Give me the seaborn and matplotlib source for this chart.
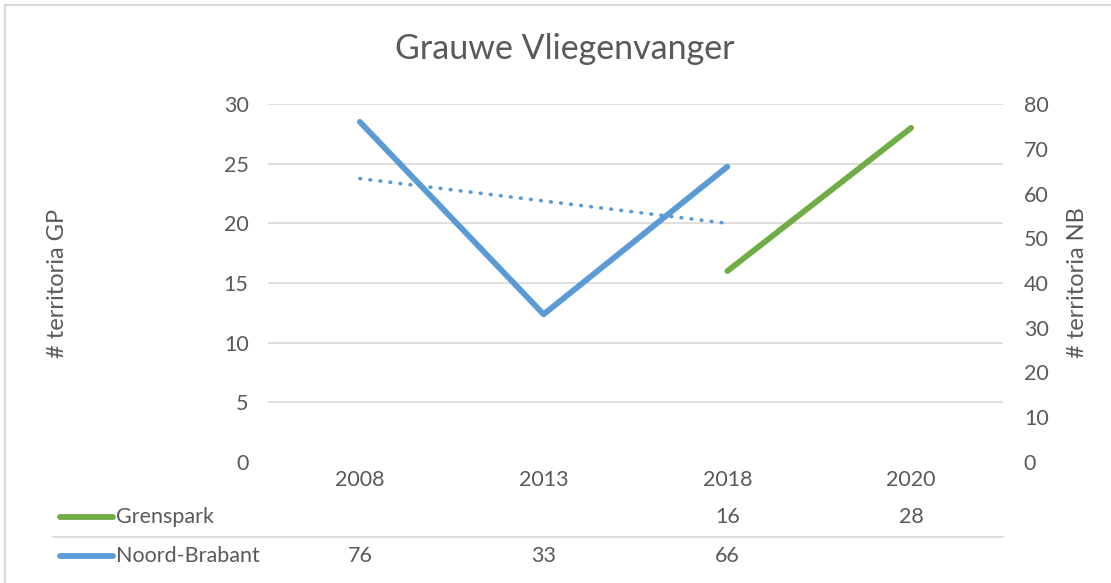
import numpy as np
import pandas as pd
import seaborn as sns
import matplotlib.pyplot as plt
from matplotlib.patches import Rectangle
from matplotlib.lines import Line2D
import matplotlib.transforms as mtransforms

# data
years = ["2008", "2013", "2018", "2020"]
grenspark = [np.nan, np.nan, 16, 28]      # left axis (GP)
noord_brabant = [76, 33, 66, np.nan]      # right axis (NB)

grey = "#595959"
blue = "#5B9BD5"
green = "#70AD47"
fs = 15.5

sns.set_theme(style="white")
plt.rcParams['font.family'] = ['Lato', 'DejaVu Sans']

df = pd.DataFrame({"x": range(len(years)), "year": years,
                   "Grenspark": grenspark, "Noord-Brabant": noord_brabant})

fig = plt.figure(figsize=(11.11, 5.83), dpi=100)
ax = fig.add_axes([268/1111, 1 - 462/583, 735/1111, 358/583])
ax2 = ax.twinx()

# green on left axis
sns.lineplot(data=df, x="x", y="Grenspark", ax=ax, color=green, linewidth=4.2)
# blue on right axis
sns.lineplot(data=df, x="x", y="Noord-Brabant", ax=ax2, color=blue, linewidth=4.2)

# linear trendline for Noord-Brabant
nb = df.dropna(subset=["Noord-Brabant"])
slope, intercept = np.polyfit(nb["x"], nb["Noord-Brabant"], 1)
trend_x = np.array([nb["x"].min(), nb["x"].max()])
ax2.plot(trend_x, slope * trend_x + intercept, color=blue, linewidth=2.6,
         linestyle=(0, (0.2, 2.6)), dash_capstyle="round")

ax.set_xlim(-0.5, len(years) - 0.5)
ax.set_ylim(0, 30)
ax2.set_ylim(0, 80)
ax.set_yticks(range(0, 31, 5))
ax2.set_yticks(range(0, 81, 10))
ax.set_xticks([])
for a in (ax, ax2):
    for s in a.spines.values():
        s.set_visible(False)
    a.tick_params(axis="y", length=0, labelsize=fs, labelcolor=grey)
    a.set_xlabel("")
ax.tick_params(axis="y", pad=14)
ax2.tick_params(axis="y", pad=15)
ax.grid(False)
ax2.grid(False)
for v in range(5, 31, 5):
    ax.axhline(v, color="#D9D9D9", linewidth=1.2, zorder=0)

ax.set_ylabel("# territoria GP", fontsize=17, color=grey)
ax2.set_ylabel("# territoria NB", fontsize=17, color=grey)
ax.yaxis.set_label_coords((68 - 268) / 735, 0.5)
ax2.yaxis.set_label_coords((1067 - 268) / 735, 0.5)

fig.text(565/1111, 1 - 49/583, "Grauwe Vliegenvanger", fontsize=24.5,
         color=grey, ha="center", va="center")

# data table under the chart
trans = mtransforms.blended_transform_factory(ax.transData, ax.transAxes)
row_year = (462 - 480) / 358
row_gp = (462 - 517) / 358
row_nb = (462 - 556) / 358
for i, yr in enumerate(years):
    ax.text(i, row_year, yr, transform=trans, ha="center", va="center",
            fontsize=fs, color=grey)
    if not np.isnan(grenspark[i]):
        ax.text(i, row_gp, f"{grenspark[i]:g}", transform=trans, ha="center",
                va="center", fontsize=fs, color=grey)
    if not np.isnan(noord_brabant[i]):
        ax.text(i, row_nb, f"{noord_brabant[i]:g}", transform=trans, ha="center",
                va="center", fontsize=fs, color=grey)

fig.add_artist(Line2D([53/1111, 1003/1111], [1 - 537/583, 1 - 537/583],
                      color="#D9D9D9", linewidth=1.2))
for label, col, ypx in [("Grenspark", green, 517), ("Noord-Brabant", blue, 556)]:
    fig.add_artist(Line2D([60/1111, 113/1111], [1 - ypx/583, 1 - ypx/583],
                          color=col, linewidth=4.2, solid_capstyle="round"))
    fig.text(116/1111, 1 - ypx/583, label, fontsize=fs, color=grey,
             ha="left", va="center")

# chart border
fig.add_artist(Rectangle((5/1111, -0.1), 1.2, 1 - 5/583 + 0.1,
                         transform=fig.transFigure, fill=False,
                         edgecolor="#D9D9D9", linewidth=1.5))

fig.savefig("out.png", dpi=100)
